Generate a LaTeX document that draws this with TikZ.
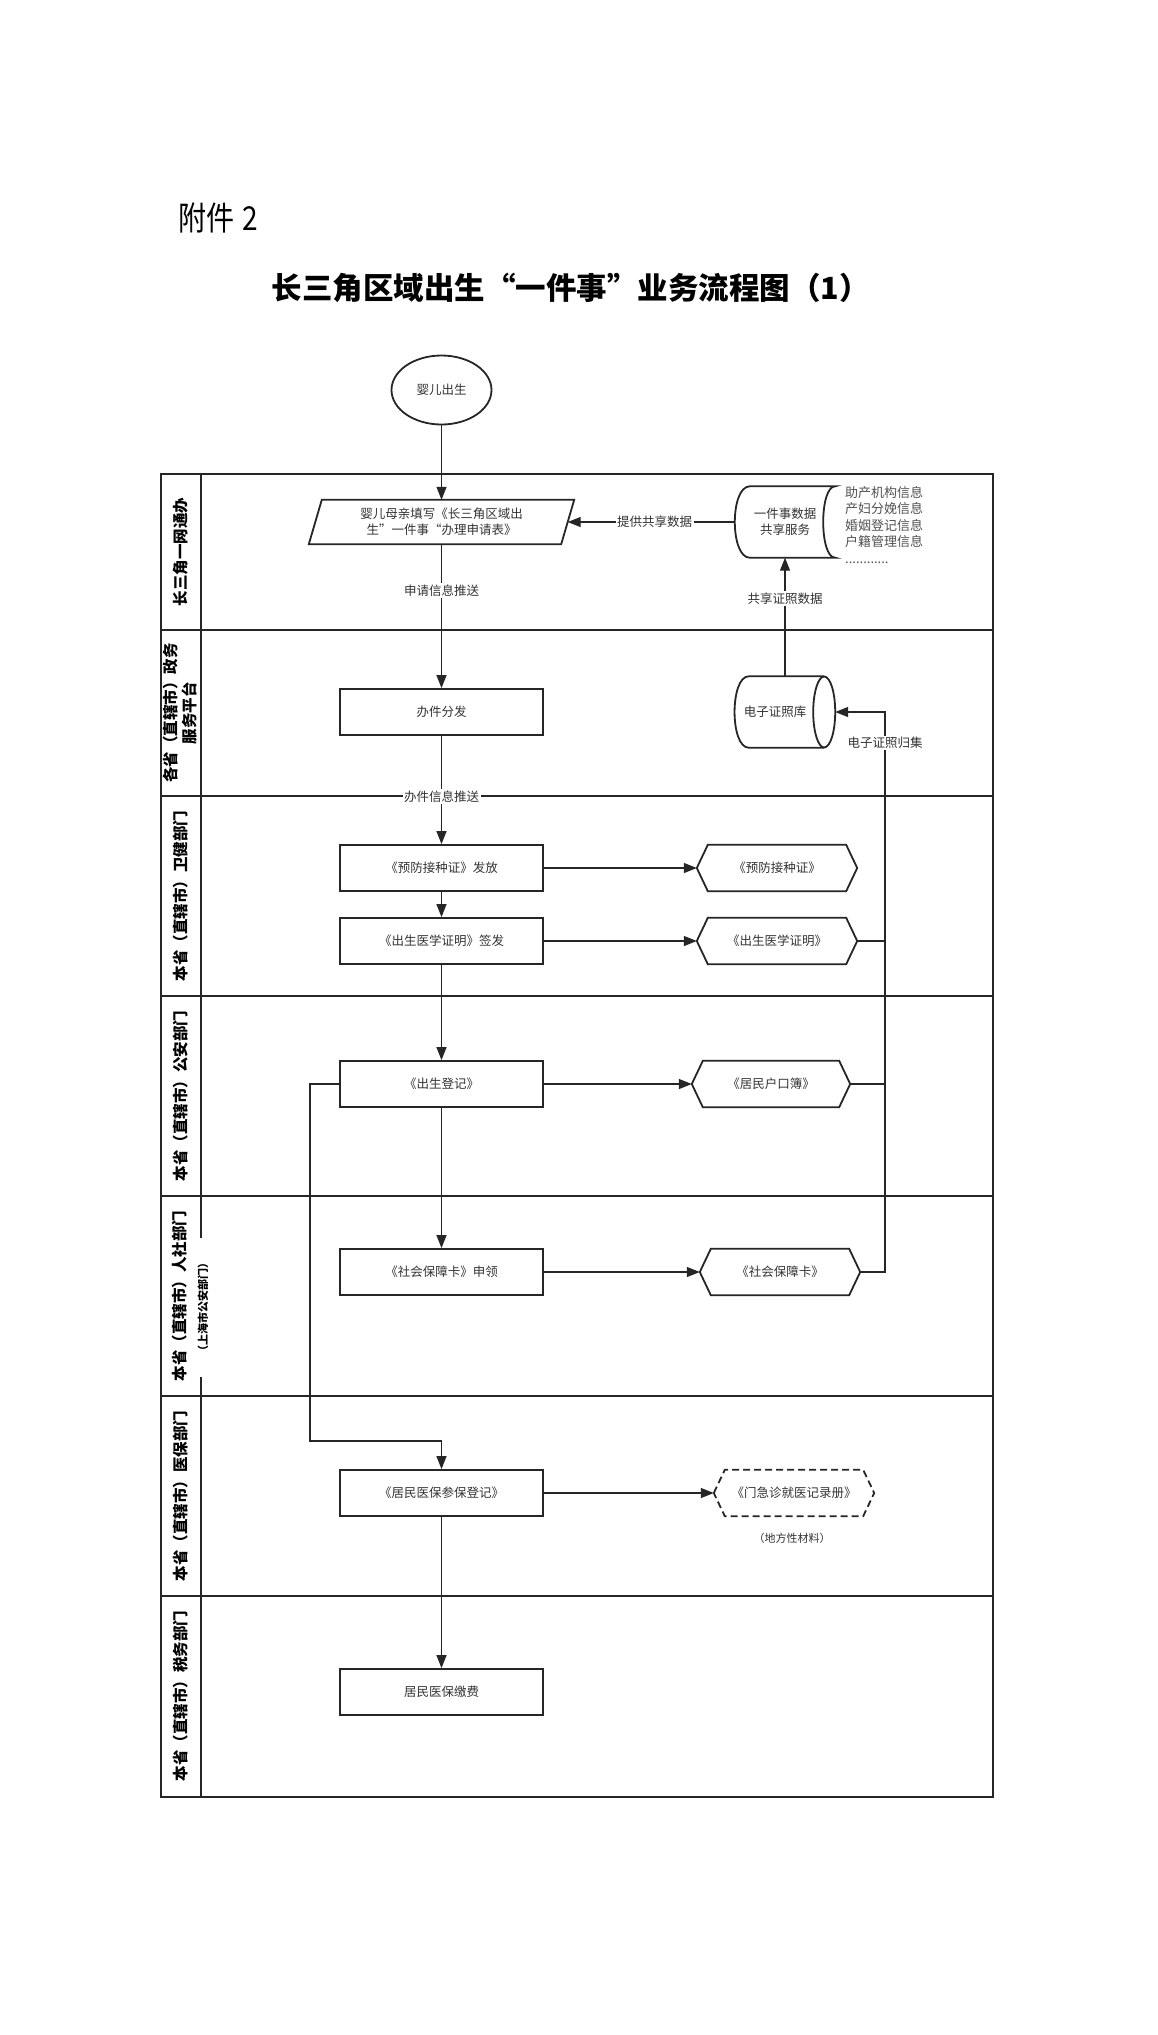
\documentclass[tikz,border=0pt]{standalone}
\usepackage{fontspec}
\setmainfont{Noto Sans CJK SC}
\usepackage{graphicx}
\usetikzlibrary{arrows.meta,shapes.geometric,calc}
\definecolor{ln}{HTML}{262626}
\definecolor{tx}{HTML}{333333}
\newcommand\nodefont{\fontsize{12.5}{16}\selectfont}
\newcommand\lanefont{\fontsize{15.5}{19}\selectfont\bfseries}
\newcommand\hexframe[2][]{%
  \draw[shapeline,#1] (#2.west) -- ([xshift=11pt]#2.north west) -- ([xshift=-11pt]#2.north east) -- (#2.east) -- ([xshift=-11pt]#2.south east) -- ([xshift=11pt]#2.south west) -- cycle;}
\tikzset{
  x=1pt, y=-1pt,
  box/.style={draw=ln, line width=1.8pt, fill=white, minimum width=203pt, minimum height=46pt, inner sep=0pt, font=\nodefont, text=tx},
  ghost/.style={inner sep=0pt, font=\nodefont, text=tx, align=center},
  hexnode/.style={ghost, minimum width=160pt, minimum height=46pt},
  conn/.style={draw=ln, line width=1.3pt},
  arr/.style={conn, -{Triangle[length=13pt,width=10pt]}},
  lbl/.style={fill=white, inner sep=1.5pt, font=\nodefont, text=tx},
  lane/.style={draw=ln, line width=2.5pt},
  lanetitle/.style={rotate=90, font=\lanefont, text=black, align=center},
  shapeline/.style={draw=ln, line width=1.8pt},
}
\begin{document}
\begin{tikzpicture}
\fill[white] (0,0) rectangle (1158,2035);
\useasboundingbox (0,0) rectangle (1158,2035);

% heading
\node[anchor=west, font=\fontsize{33}{36}\selectfont, text=black, inner sep=0pt] (att) at (178,218) {\scalebox{0.85}[1]{附件\hspace{0.3em}2}};
\node[font=\fontsize{30.5}{34}\selectfont\bfseries, text=black] (title) at (571,288) {长三角区域出生“一件事”业务流程图（1）};

% swimlanes
\draw[lane] (161,474) rectangle (993,1797);
\foreach \yy in {630,796,996,1196,1396,1596} \draw[lane] (161,\yy) -- (993,\yy);
\draw[lane, line width=2pt] (201,474) -- (201,1797);

\node[lanetitle] (l1) at (181,552) {长三角一网通办};
\node[lanetitle] (l2) at (180.5,713) {各省（直辖市）政务\\服务平台};
\node[lanetitle] (l3) at (181,896) {本省（直辖市）卫健部门};
\node[lanetitle] (l4) at (181,1096) {本省（直辖市）公安部门};
\node[lanetitle] (l5) at (180,1296) {本省（直辖市）人社部门};
\node[lanetitle, font=\fontsize{11}{13}\selectfont\bfseries, fill=white, inner xsep=20pt, inner ysep=1pt] (l5b) at (203,1307) {（上海市公安部门）};
\node[lanetitle] (l6) at (181,1496) {本省（直辖市）医保部门};
\node[lanetitle] (l7) at (181,1696) {本省（直辖市）税务部门};

% start
\node[ellipse, draw=ln, line width=1.8pt, minimum width=100pt, minimum height=69pt, inner sep=0pt, font=\nodefont, text=tx] (birth) at (441.5,390) {婴儿出生};

% application form (parallelogram)
\node[ghost, minimum width=252pt, minimum height=44pt] (apply) at (441.5,522) {婴儿母亲填写《长三角区域出\\生”一件事“办理申请表》};
\draw[shapeline] ([xshift=6.5pt]apply.north west) -- ([xshift=6.5pt]apply.north east) -- ([xshift=-6.5pt]apply.south east) -- ([xshift=-6.5pt]apply.south west) -- cycle;

% shared data service (stored data)
\node[ghost, minimum width=100pt, minimum height=71pt] (share) at (785,522) {一件事数据\\共享服务};
\draw[shapeline] ([xshift=15pt]share.north west) -- (share.north east)
  .. controls ([xshift=-16pt]share.north east) and ([xshift=-16pt]share.south east) .. (share.south east)
  -- ([xshift=15pt]share.south west)
  .. controls ([xshift=-5pt]share.south west) and ([xshift=-5pt]share.north west) .. ([xshift=15pt]share.north west) -- cycle;
\node[ghost, anchor=north west, align=left, font=\fontsize{13}{16.5}\selectfont, text=tx!85] (infolist) at (845,486) {助产机构信息\\产妇分娩信息\\婚姻登记信息\\户籍管理信息\\............};

% e-certificate store (cylinder)
\node[ghost, minimum width=100pt, minimum height=71pt] (ecert) at (785,712) {电子证照库\hspace*{20pt}};
\draw[shapeline] ([xshift=-11pt]ecert.north east) -- ([xshift=14pt]ecert.north west)
  .. controls ([xshift=-5pt]ecert.north west) and ([xshift=-5pt]ecert.south west) .. ([xshift=14pt]ecert.south west)
  -- ([xshift=-11pt]ecert.south east);
\draw[shapeline] ([xshift=-11pt]ecert.east) ellipse [x radius=11pt, y radius=35.5pt];

% process boxes
\node[box] (dispatch) at (441.5,712) {办件分发};
\node[box] (vac) at (441.5,868) {《预防接种证》发放};
\node[box] (bcert) at (441.5,941) {《出生医学证明》签发};
\node[box] (breg) at (441.5,1084) {《出生登记》};
\node[box] (soc) at (441.5,1272) {《社会保障卡》申领};
\node[box] (med) at (441.5,1493) {《居民医保参保登记》};
\node[box] (pay) at (441.5,1692) {居民医保缴费};

% documents (hexagons)
\node[hexnode] (hexvac) at (777,868) {《预防接种证》};
\hexframe{hexvac}
\node[hexnode] (hexbirth) at (777,941) {《出生医学证明》};
\hexframe{hexbirth}
\node[hexnode, minimum width=158pt] (hexhukou) at (771,1084) {《居民户口簿》};
\hexframe{hexhukou}
\node[hexnode] (hexsoc) at (780,1272) {《社会保障卡》};
\hexframe{hexsoc}
\node[hexnode] (hexclinic) at (794,1493) {《门急诊就医记录册》};
\hexframe[dash pattern=on 7pt off 4pt]{hexclinic}
\node[ghost, font=\fontsize{11}{13}\selectfont] (local) at (792,1538) {（地方性材料）};

% connectors
\draw[arr] (birth) -- (apply);
\draw[arr] (apply) -- node[lbl, pos=0.32] {申请信息推送} (dispatch);
\draw[arr] (dispatch) -- node[lbl, pos=0.56] {办件信息推送} (vac);
\draw[arr] (vac) -- (bcert);
\draw[arr] (bcert) -- (breg);
\draw[arr] (breg) -- (soc);
\draw[arr] (med) -- (pay);
\coordinate (loopL) at (310,1441);
\draw[arr] (breg.west) -| (loopL) -| (med.north);

\draw[arr] (vac) -- (hexvac);
\draw[arr] (bcert) -- (hexbirth);
\draw[arr] (breg) -- (hexhukou);
\draw[arr] (soc) -- (hexsoc);
\draw[arr] (med) -- (hexclinic);

\coordinate (busTop) at (885,712);
\coordinate (busBot) at (885,1272);
\draw[arr] (hexsoc.east) -- (busBot) -- node[lbl, pos=0.945] {电子证照归集} (busTop) -- (ecert.east);
\draw[conn] (hexbirth.east) -- (hexbirth.east -| busTop);
\draw[conn] (hexhukou.east) -- (hexhukou.east -| busTop);

\draw[arr] (share.west) -- node[lbl, pos=0.48] {提供共享数据} (apply.east);
\draw[arr] (ecert.north) -- node[lbl, pos=0.655] {共享证照数据} (share.south);
\end{tikzpicture}
\end{document}
